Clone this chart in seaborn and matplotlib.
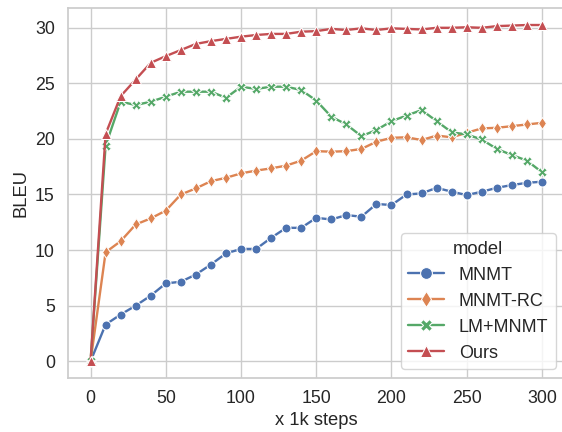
import pandas as pd
import matplotlib
matplotlib.use('Agg')
import matplotlib.pyplot as plt
import seaborn as sns

steps = [0, 10, 20, 30, 40, 50, 60, 70, 80, 90, 100, 110, 120, 130, 140, 150,
         160, 170, 180, 190, 200, 210, 220, 230, 240, 250, 260, 270, 280, 290, 300]

mnmt = [0, 3.3, 4.2, 5.0, 5.9, 7.0, 7.15, 7.8, 8.7, 9.7, 10.1, 10.1, 11.1, 12.0, 12.0,
        12.9, 12.75, 13.15, 13.0, 14.15, 14.05, 15.0, 15.1, 15.6, 15.25, 14.95, 15.25,
        15.6, 15.85, 16.05, 16.15]
mnmt_rc = [0, 9.8, 10.8, 12.3, 12.85, 13.55, 15.0, 15.55, 16.2, 16.5, 16.9, 17.15, 17.35,
           17.6, 18.05, 18.9, 18.85, 18.9, 19.1, 19.75, 20.1, 20.15, 19.9, 20.3, 20.15,
           20.55, 20.95, 21.0, 21.15, 21.3, 21.45]
lm_mnmt = [0, 19.4, 23.35, 23.05, 23.35, 23.8, 24.25, 24.25, 24.25, 23.7, 24.7, 24.5, 24.7,
           24.7, 24.4, 23.45, 22.0, 21.3, 20.25, 20.8, 21.6, 22.1, 22.6, 21.6, 20.6, 20.4,
           19.95, 19.1, 18.55, 18.05, 17.0]
ours = [0, 20.45, 23.85, 25.35, 26.85, 27.45, 28.0, 28.55, 28.8, 29.0, 29.2, 29.35, 29.45,
        29.45, 29.65, 29.7, 29.9, 29.8, 29.95, 29.8, 29.95, 29.9, 29.85, 30.0, 30.0, 30.05,
        30.0, 30.15, 30.2, 30.25, 30.25]

models = ['MNMT', 'MNMT-RC', 'LM+MNMT', 'Ours']
series = [mnmt, mnmt_rc, lm_mnmt, ours]

rows = []
for name, vals in zip(models, series):
    for s, v in zip(steps, vals):
        rows.append({'x 1k steps': s, 'BLEU': v, 'model': name})
df = pd.DataFrame(rows)

sns.set_theme(style='whitegrid')
plt.rcParams['font.family'] = ['Liberation Sans', 'DejaVu Sans']
plt.rcParams['xtick.labelsize'] = 12.8
plt.rcParams['ytick.labelsize'] = 12.8
plt.rcParams['axes.labelsize'] = 13.2
plt.rcParams['legend.fontsize'] = 13
plt.rcParams['legend.title_fontsize'] = 13.2

fig = plt.figure(figsize=(5.62, 4.32), dpi=100)
ax = fig.add_axes([0.121, 0.125, 0.8835, 0.856])
sns.lineplot(data=df, x='x 1k steps', y='BLEU', hue='model', style='model',
             markers=['o', 'd', 'X', '^'], dashes=False, markersize=6.5,
             linewidth=1.7, ax=ax)
ax.tick_params(axis='x', length=0, pad=8.5)
ax.tick_params(axis='y', length=0, pad=9.5)
leg = ax.legend(loc='lower right', title='model')
for h in leg.legend_handles:
    h.set_markersize(8.5)
    h.set_linewidth(1.7)

fig.savefig('out.png', dpi=100)
